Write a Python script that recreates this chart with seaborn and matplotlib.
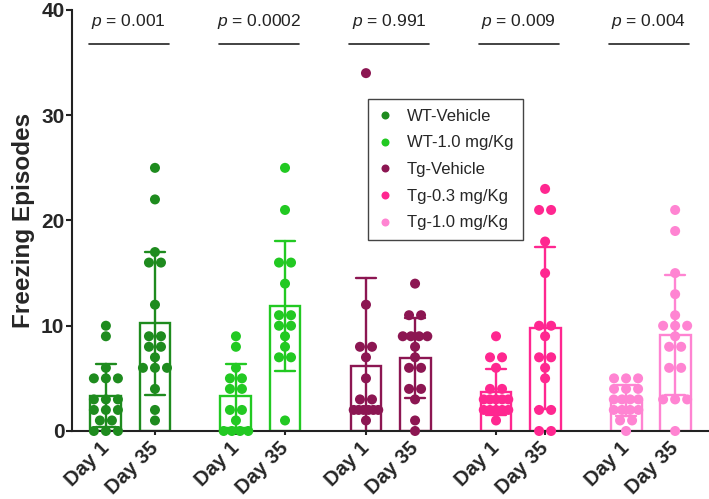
import numpy as np
import pandas as pd
import seaborn as sns
import matplotlib
matplotlib.use("Agg")
import matplotlib.pyplot as plt

# groups, colours and the two days
groups = ["WT-Vehicle", "WT-1.0 mg/Kg", "Tg-Vehicle", "Tg-0.3 mg/Kg", "Tg-1.0 mg/Kg"]
colors = ["#1E8B1E", "#22C922", "#8C1652", "#FF2790", "#FF84D2"]
days = ["Day 1", "Day 35"]
p_values = ["0.001", "0.0002", "0.991", "0.009", "0.004"]

# freezing episodes per animal
wt_veh_d1 = [10, 9, 6, 5, 5, 5, 3, 3, 3, 2, 2, 2, 1, 1, 0, 0, 0]
wt_veh_d35 = [25, 22, 17, 16, 16, 12, 9, 9, 8, 8, 7, 6, 6, 6, 4, 2, 1]
wt_10_d1 = [9, 8, 6, 5, 5, 4, 4, 2, 2, 1, 0, 0, 0, 0]
wt_10_d35 = [25, 21, 16, 16, 14, 11, 11, 10, 10, 9, 8, 7, 7, 1]
tg_veh_d1 = [34, 12, 8, 8, 7, 5, 3, 3, 2, 2, 2, 2, 2, 2, 1]
tg_veh_d35 = [14, 11, 11, 9, 9, 9, 9, 8, 7, 6, 6, 4, 4, 3, 1, 0]
tg_03_d1 = [9, 7, 7, 6, 4, 4, 3, 3, 3, 3, 3, 2, 2, 2, 2, 2, 1]
tg_03_d35 = [23, 21, 21, 18, 15, 10, 10, 9, 7, 7, 6, 5, 2, 2, 0, 0]
tg_10_d1 = [5, 5, 5, 4, 4, 4, 3, 3, 3, 3, 2, 2, 2, 2, 1, 1, 0]
tg_10_d35 = [21, 19, 15, 13, 11, 10, 10, 10, 9, 8, 8, 6, 6, 3, 3, 3, 0]

series = [
    (wt_veh_d1, wt_veh_d35),
    (wt_10_d1, wt_10_d35),
    (tg_veh_d1, tg_veh_d35),
    (tg_03_d1, tg_03_d35),
    (tg_10_d1, tg_10_d35),
]

GAP = 2.65  # distance between group starts, in units of the day spacing

rows = []
for gi, (g, pair) in enumerate(zip(groups, series)):
    for di, vals in enumerate(pair):
        pos = gi * GAP + di
        # spread equal values side by side, like the prism scatter
        counts = {}
        for v in vals:
            counts[v] = counts.get(v, 0) + 1
        seen = {}
        for v in vals:
            n = counts[v]
            k = seen.get(v, 0)
            seen[v] = k + 1
            step = min(0.245, 0.5 / (n - 1)) if n > 1 else 0
            off = (k - (n - 1) / 2) * step
            rows.append((g, days[di], pos, pos + off, v))

df = pd.DataFrame(rows, columns=["group", "day", "pos", "xs", "value"])

sns.set_style("ticks")
plt.rcParams["font.family"] = ["Liberation Sans", "DejaVu Sans"]
plt.rcParams["mathtext.fontset"] = "custom"
plt.rcParams["mathtext.it"] = "Liberation Sans:italic"
plt.rcParams["mathtext.rm"] = "Liberation Sans"

fig = plt.figure(figsize=(7.09, 4.99), dpi=100)
ax = fig.add_axes([0.1016, 0.1363, 0.8984, 0.8437])

pal = dict(zip(groups, colors))

sns.barplot(data=df, x="pos", y="value", hue="group", palette=pal,
            native_scale=True, dodge=False, fill=False, errorbar="sd",
            capsize=0.4, width=0.63, linewidth=1.7, legend=False, ax=ax,
            err_kws={"linewidth": 1.7})

sns.scatterplot(data=df, x="xs", y="value", hue="group", palette=pal,
                s=52, edgecolor="none", linewidth=0, zorder=4,
                clip_on=False, ax=ax, legend=True)

ax.set_ylim(0, 40)
ax.set_xlim(-0.69, (len(groups) - 1) * GAP + 1 + 0.69)
ax.set_yticks([0, 10, 20, 30, 40])

tick_pos = [gi * GAP + di for gi in range(len(groups)) for di in range(2)]
ax.set_xticks(tick_pos)
ax.set_xticklabels(days * len(groups), rotation=45, ha="right",
                   va="center", rotation_mode="anchor", fontweight="bold",
                   fontsize=14.5)
for lab in ax.get_yticklabels():
    lab.set_fontweight("bold")
    lab.set_fontsize(15)

ax.set_xlabel("")
ax.set_ylabel("Freezing Episodes", fontsize=17.5, fontweight="bold", labelpad=4)

for sp in ["top", "right"]:
    ax.spines[sp].set_visible(False)
for sp in ["left", "bottom"]:
    ax.spines[sp].set_linewidth(1.5)
    ax.spines[sp].set_color("#222222")
ax.tick_params(axis="both", width=1.5, length=4, color="#222222")
ax.tick_params(axis="x", pad=7, length=3)
ax.tick_params(axis="y", pad=1.5)

# p-value brackets
for gi, p in enumerate(p_values):
    x0 = gi * GAP - 0.35
    x1 = gi * GAP + 1 + 0.28
    ax.plot([x0, x1], [36.8, 36.8], color="#222222", lw=1.2, clip_on=False)
    ax.text((x0 + x1) / 2, 38.9, r"$\mathit{p}$ = " + p, ha="center",
            va="center", fontsize=12.5, color="#222222")

leg = ax.legend(loc="upper left", bbox_to_anchor=(0.465, 0.789),
                borderaxespad=0, frameon=True, fancybox=False, fontsize=12,
                handlelength=0.8, handletextpad=0.9, labelspacing=0.7,
                borderpad=0.6, markerscale=0.8)
leg.get_frame().set_edgecolor("#444444")
leg.get_frame().set_linewidth(1.0)
leg.get_frame().set_alpha(1)

fig.savefig("out.png", dpi=100)
